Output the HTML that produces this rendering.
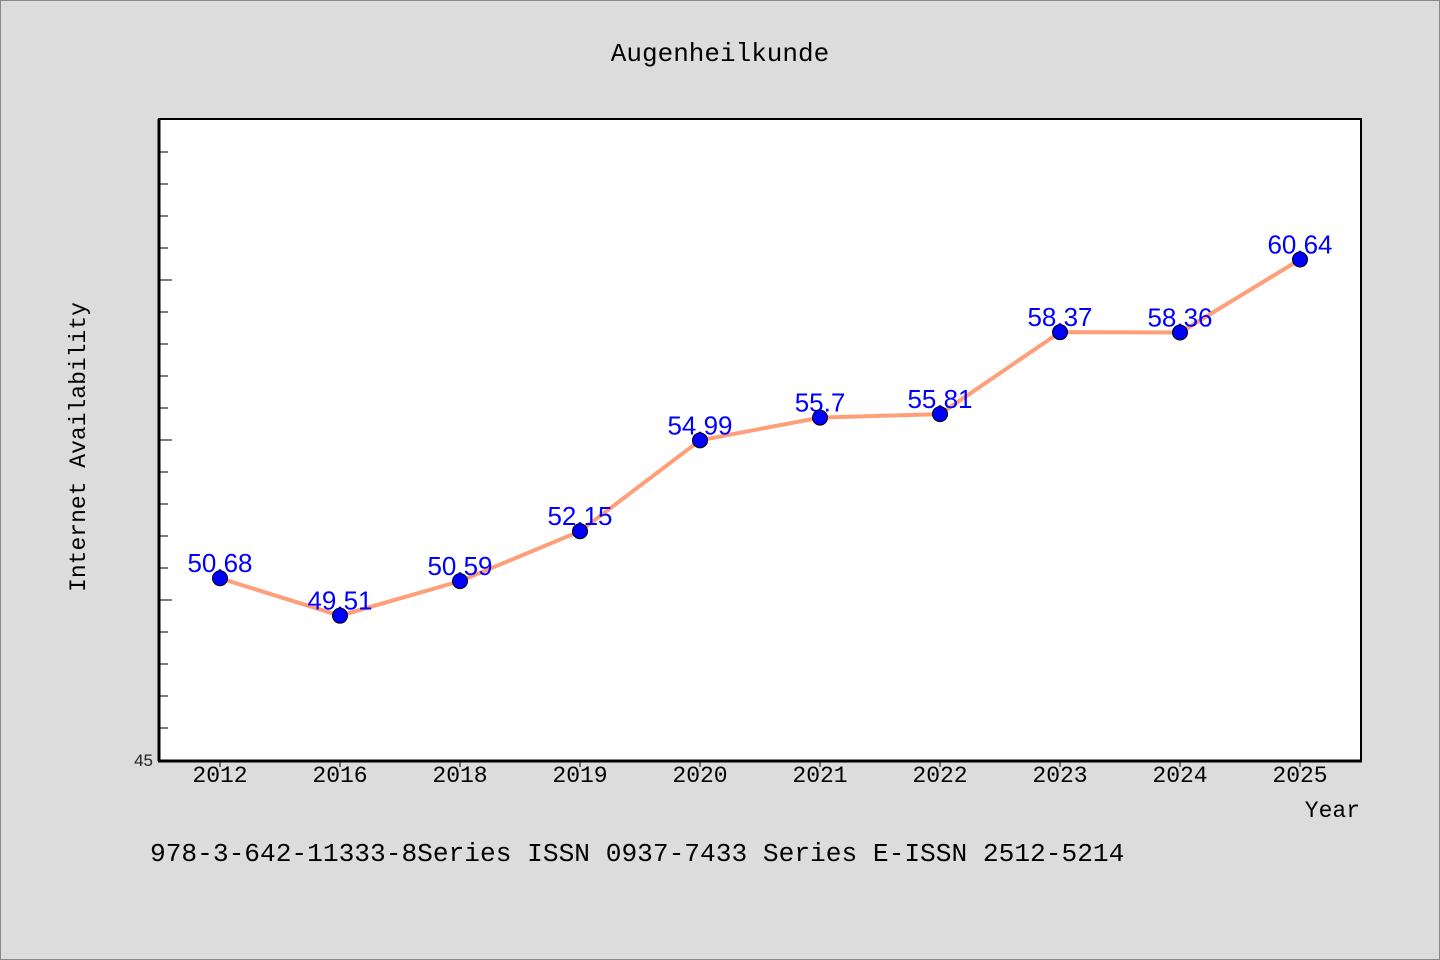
<!DOCTYPE html>
<html><head><meta charset="utf-8"><style>
html,body{margin:0;padding:0;background:#dcdcdc;}
svg{display:block;}
text{font-family:"Liberation Mono","DejaVu Sans Mono",monospace;}
</style></head><body>
<svg id="chart" width="1440" height="960" xmlns="http://www.w3.org/2000/svg">
<rect x="0.5" y="0.5" width="1439" height="959" fill="#dcdcdc" stroke="#888" stroke-width="1"/>
<text x="720" y="61" font-size="26" text-anchor="middle" fill="#000">Augenheilkunde</text>
<rect x="159" y="119" width="1202" height="642" fill="#fff" stroke="#000" stroke-width="2"/>
<g id="axes"></g>
<g id="series"></g>
<text transform="translate(85,447) rotate(-90)" font-size="23" text-anchor="middle" fill="#000">Internet Availability</text>
<text x="1360" y="817" font-size="23" text-anchor="end" fill="#000">Year</text>
<text x="150" y="861" font-size="26.2" fill="#000">978-3-642-11333-8Series ISSN 0937-7433 Series E-ISSN 2512-5214</text>
</svg>
<script>
const categories = ["2012","2016","2018","2019","2020","2021","2022","2023","2024","2025"];
const values = [50.68,49.51,50.59,52.15,54.99,55.7,55.81,58.37,58.36,60.64];
const yMin = 45, yMax = 65;
const yTickLabels = ["45"];

const NS = "http://www.w3.org/2000/svg";
const L = 159, R = 1361, T = 119, B = 760;
function xPos(i){ return 220 + i * (R - L - 122) / (categories.length - 1); }
function yPos(v){ return B - (v - yMin) / (yMax - yMin) * (B - T - 1); }
function mk(tag, attrs, parent){ const e = document.createElementNS(NS, tag); for (const k in attrs) e.setAttribute(k, attrs[k]); parent.appendChild(e); return e; }

const axes = document.getElementById('axes');
const series = document.getElementById('series');
// thick left & bottom axes
const ya = mk('line', {x1:L, y1:T, x2:L, y2:B+1, stroke:'#000', 'stroke-width':3}, axes);


const xa = mk('line', {x1:L-1, y1:B+1, x2:R+1, y2:B+1, stroke:'#000', 'stroke-width':3}, axes);


for (let v = yMin + 1; v < yMax; v++) {
  const y = yPos(v);
  const major = (v % 5 === 0);
  const t = mk('line', {x1:L, y1:y, x2:L + (major ? 13 : 9), y2:y, stroke:'#000', 'stroke-width':1}, axes);
  
  
}
yTickLabels.forEach(s => {
  const t = mk('text', {x:L - 6, y:yPos(parseFloat(s)) + 6, 'font-size':17, 'text-anchor':'end', fill:'#222', style:'font-family:"Liberation Sans",sans-serif'}, axes);
  t.textContent = s;
  
  
});
categories.forEach((c, i) => {
  const x = xPos(i);
  const tk = mk('line', {x1:x, y1:B+2, x2:x, y2:B+7, stroke:'#000', 'stroke-width':1}, axes);
  
  
  const t = mk('text', {x:x, y:782, 'font-size':23, 'text-anchor':'middle', fill:'#000'}, axes);
  t.textContent = c;
  
  
});
const pts = values.map((v, i) => xPos(i) + ',' + yPos(v)).join(' ');
const line = mk('polyline', {points:pts, fill:'none', stroke:'#ff9f7a', 'stroke-width':4, 'stroke-linejoin':'round'}, series);


values.forEach((v, i) => {
  const x = xPos(i), y = yPos(v);
  const lb = mk('text', {x:x, y:y - 6, 'font-size':26, 'text-anchor':'middle', fill:'#0000ff', style:'font-family:"Liberation Sans",sans-serif'}, series);
  lb.textContent = String(v);
  
  
});
values.forEach((v, i) => {
  const c = mk('circle', {cx:xPos(i), cy:yPos(v), r:7.5, fill:'#0000ff', stroke:'#000', 'stroke-width':1}, series);
  
  
});
</script>
</body></html>
